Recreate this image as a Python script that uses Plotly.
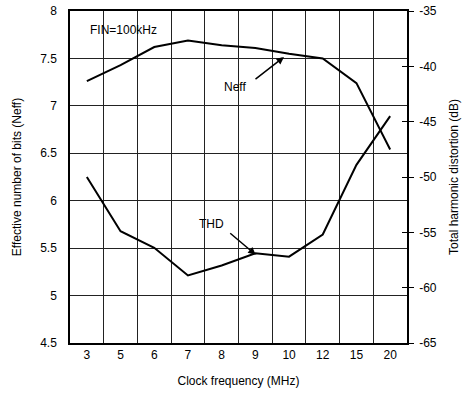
import plotly.graph_objects as go

clock_mhz = ["3", "5", "6", "7", "8", "9", "10", "12", "15", "20"]
neff_bits = [7.26, 7.43, 7.62, 7.69, 7.64, 7.61, 7.55, 7.50, 7.24, 6.54]
thd_db = [-50.0, -54.9, -56.4, -58.9, -58.0, -56.9, -57.2, -55.2, -48.9, -44.5]
left_ticks = [4.5, 5, 5.5, 6, 6.5, 7, 7.5, 8]
right_ticks = [-65, -60, -55, -50, -45, -40, -35]

FONT = "Liberation Sans, Arial, Helvetica, sans-serif"

fig = go.Figure()
fig.add_trace(go.Scatter(x=clock_mhz, y=neff_bits, mode="lines",
                         line=dict(color="black", width=2), yaxis="y", showlegend=False))
fig.add_trace(go.Scatter(x=clock_mhz, y=thd_db, mode="lines",
                         line=dict(color="black", width=2), yaxis="y2", showlegend=False))
fig.add_trace(go.Scatter(x=clock_mhz, y=[None] * len(clock_mhz), mode="lines",
                         yaxis="y3", showlegend=False, hoverinfo="skip"))

fig.update_layout(
    width=472, height=394,
    margin=dict(l=70, r=65, t=11, b=51),
    paper_bgcolor="white", plot_bgcolor="white",
    font=dict(family=FONT, size=12, color="black"),
    xaxis=dict(type="category", categoryorder="array", categoryarray=clock_mhz,
               tickson="boundaries", ticks="", showgrid=True, gridcolor="#222", gridwidth=1,
               showline=True, linecolor="black", linewidth=1.5, mirror=True, automargin=False,
               range=[-0.5, len(clock_mhz) - 0.5], tickfont=dict(size=12),
               title=dict(text="Clock frequency (MHz)", font=dict(size=12), standoff=15)),
    yaxis=dict(range=[4.5, 8], tickvals=left_ticks, ticktext=[f"{v:g}" for v in left_ticks],
               showgrid=True, gridcolor="#222", gridwidth=1, zeroline=False, automargin=False,
               showline=True, linecolor="black", linewidth=1.5, ticks="",
               ticklabelstandoff=9, tickfont=dict(size=12),
               title=dict(text="Effective number of bits (Neff)", font=dict(size=12), standoff=16)),
    yaxis2=dict(range=[-65, -35], tickvals=right_ticks, ticktext=[str(v) for v in right_ticks],
                overlaying="y", side="right", anchor="x", showgrid=False, zeroline=False,
                showline=True, linecolor="black", linewidth=1.5, automargin=False,
                ticks="outside", ticklen=5, tickcolor="black", tickwidth=1,
                ticklabelstandoff=3, tickfont=dict(size=12),
                title=dict(text="Total harmonic distortion (dB)", font=dict(size=12), standoff=14)),
    yaxis3=dict(range=[-65, -35], tickvals=right_ticks, overlaying="y", side="right",
                anchor="x", showgrid=False, zeroline=False, showline=False, automargin=False,
                ticks="inside", ticklen=5, tickcolor="black", tickwidth=1,
                showticklabels=False),
)

fig.add_annotation(x=1.1, y=7.80, xref="x", yref="y", text="FIN=100kHz", showarrow=False,
                   font=dict(size=12))
fig.add_annotation(x=4.39, y=7.20, xref="x", yref="y", text="Neff", showarrow=False,
                   font=dict(size=12))
fig.add_annotation(x=5.85, y=7.515, ax=4.96, ay=7.27, xref="x", yref="y", axref="x", ayref="y",
                   text="", showarrow=True, arrowhead=2, arrowsize=1, arrowwidth=1.5,
                   arrowcolor="black")
fig.add_annotation(x=3.71, y=5.756, xref="x", yref="y", text="THD", showarrow=False,
                   font=dict(size=12))
fig.add_annotation(x=5.01, y=5.43, ax=4.21, ay=5.67, xref="x", yref="y", axref="x", ayref="y",
                   text="", showarrow=True, arrowhead=2, arrowsize=1, arrowwidth=1.5,
                   arrowcolor="black")

fig.write_html("out.html")
